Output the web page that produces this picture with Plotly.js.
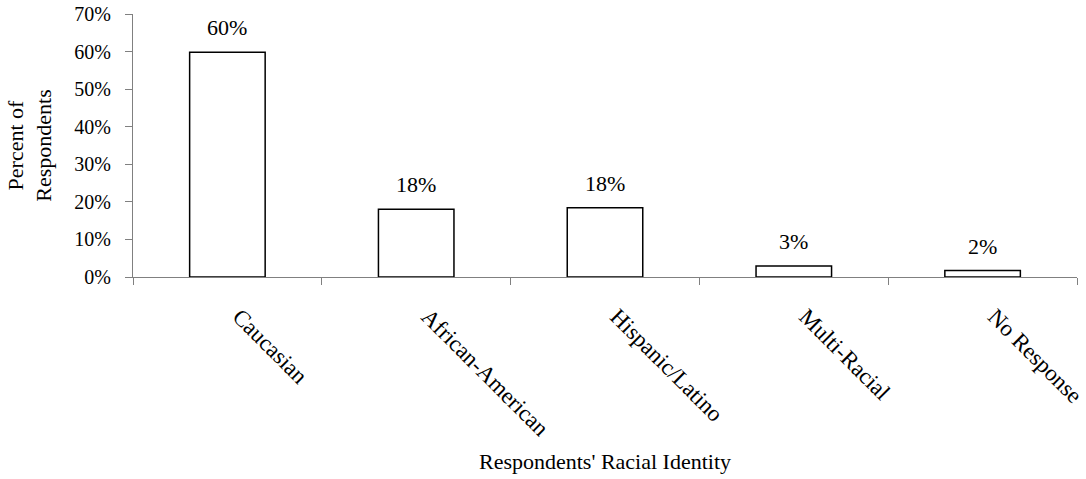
<!DOCTYPE html>
<html>
<head>
<meta charset="utf-8">
<script src="https://cdn.plot.ly/plotly-3.0.1.min.js"></script>
<style>
  html, body { margin: 0; padding: 0; background: #fff; }
  #chart { width: 1086px; height: 479px; }
</style>
</head>
<body>
<div id="chart"></div>
<script>
// Survey respondents by racial identity (percent of respondents)
const categories = ['Caucasian', 'African-American', 'Hispanic/Latino', 'Multi-Racial', 'No Response'];
const percents = [59.8, 18.0, 18.4, 2.9, 1.7];
const yTickValues = [0, 10, 20, 30, 40, 50, 60, 70];
const yTickLabels = ['0%', '10%', '20%', '30%', '40%', '50%', '60%', '70%'];

const serif = 'Liberation Serif, Times New Roman, serif';

const bars = {
  type: 'bar',
  x: categories,
  y: percents,
  width: 0.4,
  marker: { color: '#ffffff', line: { color: '#000000', width: 1.5 } },
  hoverinfo: 'skip'
};

// value labels above each bar, from the same values
const valueLabels = categories.map((c, i) => ({
  x: c,
  y: percents[i],
  xref: 'x',
  yref: 'y',
  text: Math.round(percents[i]) + '%',
  showarrow: false,
  yanchor: 'bottom',
  yshift: 10,
  font: { family: serif, size: 22, color: '#000' }
}));

const layout = {
  width: 1086,
  height: 479,
  margin: { l: 133, r: 9, t: 14, b: 202 },
  paper_bgcolor: '#ffffff',
  plot_bgcolor: '#ffffff',
  showlegend: false,
  font: { family: serif, size: 21, color: '#000' },
  xaxis: {
    type: 'category',
    range: [-0.5, 4.5],
    tickson: 'boundaries',
    ticks: 'outside',
    ticklen: 7,
    tickcolor: '#808080',
    showline: true,
    linecolor: '#808080',
    linewidth: 1,
    showgrid: false,
    zeroline: false,
    tickangle: 45,
    ticklabelstandoff: 16,
    ticklabelshift: 12,
    tickfont: { family: serif, size: 23, color: '#000' },
    title: {
      text: "Respondents' Racial Identity",
      font: { family: serif, size: 22, color: '#000' },
      standoff: 13
    },
    automargin: false
  },
  yaxis: {
    range: [0, 70],
    tickvals: yTickValues,
    ticktext: yTickLabels,
    ticks: 'outside',
    ticklen: 7,
    tickcolor: '#808080',
    showline: true,
    linecolor: '#808080',
    linewidth: 1,
    showgrid: false,
    zeroline: false,
    ticklabelstandoff: 10,
    tickfont: { family: serif, size: 20, color: '#000' },
    title: {
      text: 'Percent of<br>Respondents',
      font: { family: serif, size: 22, color: '#000' },
      standoff: 16
    },
    automargin: false
  },
  annotations: valueLabels
};

Plotly.newPlot('chart', [bars], layout, { displayModeBar: false, staticPlot: true });
</script>
</body>
</html>
